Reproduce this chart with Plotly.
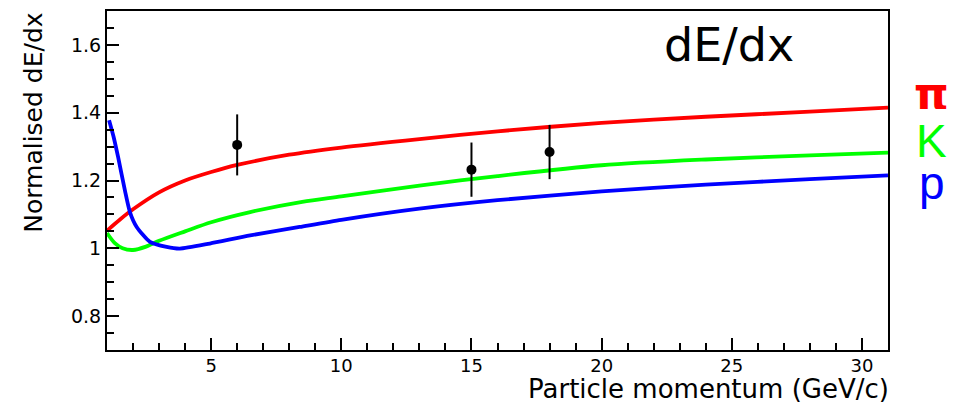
import plotly.graph_objects as go

# --- data ---
pi_x = [1, 1.5, 2, 3, 4, 5, 6, 8, 10, 13, 16, 20, 24, 28, 31]
pi_y = [1.052, 1.085, 1.115, 1.165, 1.2, 1.225, 1.246, 1.276, 1.297, 1.322, 1.345, 1.370, 1.388, 1.403, 1.415]

k_x = [1, 1.3, 1.6, 2, 2.5, 3, 4, 5, 6.5, 8.5, 10, 13, 16, 20, 24, 28, 31]
k_y = [1.045, 1.015, 1.0, 0.995, 1.005, 1.022, 1.05, 1.077, 1.107, 1.137, 1.153, 1.185, 1.213, 1.245, 1.262, 1.274, 1.282]

p_x = [1.08, 1.25, 1.43, 1.69, 1.88, 2.14, 2.65, 3.29, 3.8, 4.95, 6.5, 8.4, 10, 13, 16, 20, 24, 28, 31]
p_y = [1.378, 1.33, 1.268, 1.17, 1.107, 1.063, 1.019, 1.004, 0.999, 1.014, 1.038, 1.063, 1.084, 1.117, 1.142, 1.168, 1.188, 1.204, 1.215]

meas_x = [6, 15, 18]
meas_y = [1.305, 1.232, 1.284]
meas_err = [0.09, 0.08, 0.08]

x_ticks = [5, 10, 15, 20, 25, 30]
y_ticks = [0.8, 1.0, 1.2, 1.4, 1.6]
y_tick_labels = ["0.8", "1", "1.2", "1.4", "1.6"]

line_w = 3.8
fig = go.Figure()
fig.add_trace(go.Scatter(x=pi_x, y=pi_y, mode="lines", line=dict(color="#ff0000", width=line_w, shape="spline", smoothing=0.8), showlegend=False))
fig.add_trace(go.Scatter(x=k_x, y=k_y, mode="lines", line=dict(color="#00ff00", width=line_w, shape="spline", smoothing=0.8), showlegend=False))
fig.add_trace(go.Scatter(x=p_x, y=p_y, mode="lines", line=dict(color="#0000ff", width=line_w, shape="spline", smoothing=0.6), showlegend=False))
fig.add_trace(go.Scatter(
    x=meas_x, y=meas_y, mode="markers",
    marker=dict(color="black", size=10),
    error_y=dict(type="data", array=meas_err, color="black", thickness=2, width=0),
    showlegend=False))

font_main = "DejaVu Sans, Verdana, sans-serif"
font_arial = "Liberation Sans, Arial, sans-serif"

# page body has an 8px default margin: size the figure so it fits the 962x412 window
fig.update_layout(
    width=946, height=396,
    margin=dict(l=99, r=66, t=1, b=54),
    paper_bgcolor="white", plot_bgcolor="white",
    font=dict(family=font_main, color="black"),
    xaxis=dict(
        range=[1, 31], tickvals=x_ticks, ticks="inside", ticklen=12, tickwidth=1.5, tickcolor="black",
        minor=dict(dtick=1, ticks="inside", ticklen=7, tickwidth=1.5, tickcolor="black"),
        showline=True, linecolor="black", linewidth=2, mirror=True,
        showgrid=False, zeroline=False, ticklabelstandoff=-2,
        tickfont=dict(size=18, family=font_main),
    ),
    yaxis=dict(
        range=[0.7, 1.7], tickvals=y_ticks, ticktext=y_tick_labels, ticks="inside", ticklen=12, tickwidth=1.5, tickcolor="black",
        minor=dict(dtick=0.05, tick0=0.7, ticks="inside", ticklen=7, tickwidth=1.5, tickcolor="black"),
        showline=True, linecolor="black", linewidth=2, mirror=True,
        showgrid=False, zeroline=False,
        tickfont=dict(size=19, family=font_main),
    ),
    annotations=[
        dict(text="Particle momentum (GeV/c)", xref="paper", yref="paper", x=1.004, y=(350 - 404) / 341,
             xanchor="right", yanchor="bottom", height=26, valign="middle", showarrow=False,
             font=dict(size=26, family=font_main)),
        dict(text="Normalised dE/dx", xref="paper", yref="paper", x=-0.095, y=1.0,
             xanchor="center", yanchor="top", textangle=-90, showarrow=False, font=dict(size=25, family=font_main)),
        dict(text="dE/dx", xref="paper", yref="paper", x=0.797, y=0.9,
             xanchor="center", yanchor="middle", showarrow=False, font=dict(size=46, family="DejaVu Sans")),
        dict(text="<b>π</b>", xref="paper", yref="paper", x=1.056, y=(350 - 91.8) / 341,
             xanchor="center", yanchor="middle", height=32, valign="middle", showarrow=False,
             font=dict(size=44, color="#ff0000", family="DejaVu Sans")),
        dict(text="K", xref="paper", yref="paper", x=1.056, y=(350 - 136) / 341,
             xanchor="center", yanchor="middle", height=44, valign="top", showarrow=False,
             font=dict(size=46, color="#00ff00", family=font_arial)),
        dict(text="p", xref="paper", yref="paper", x=1.056, y=(350 - 186) / 341,
             xanchor="center", yanchor="middle", height=44, valign="bottom", showarrow=False,
             font=dict(size=46, color="#0000ff", family=font_arial)),
    ],
)

fig.write_html("out.html")
